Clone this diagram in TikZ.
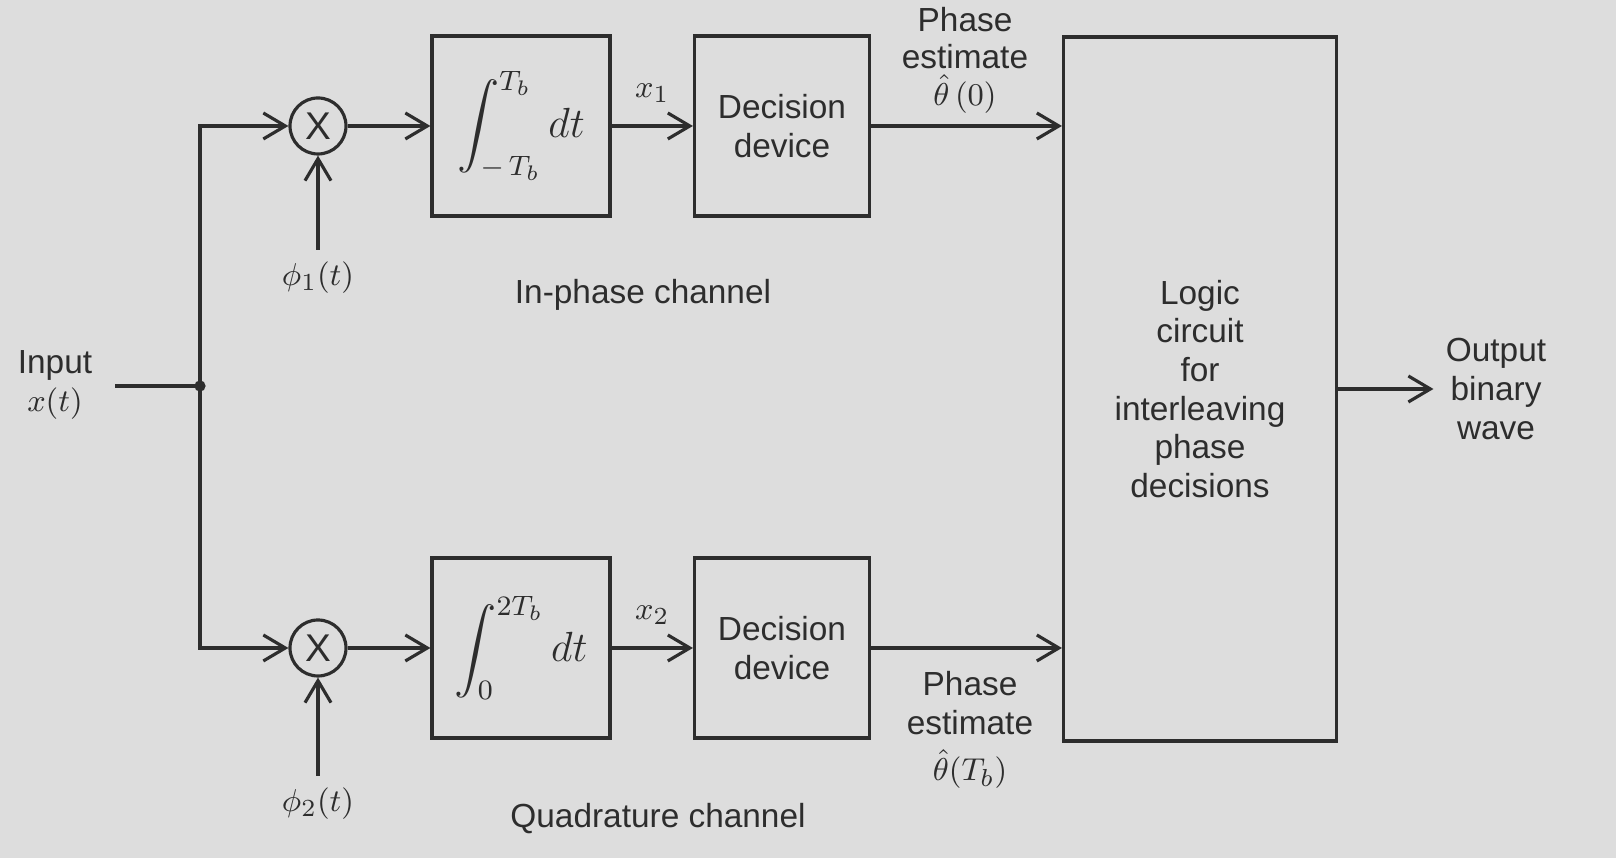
\documentclass[tikz,border=0pt]{standalone}
\usepackage{amsmath}
\usepackage{fontspec}
\setmainfont{Liberation Sans}
\usetikzlibrary{positioning, arrows.meta}
\definecolor{paper}{RGB}{221,221,221}
\definecolor{ink}{RGB}{45,45,45}

\begin{document}
\begin{tikzpicture}[node distance=1.5cm, auto, font=\fontsize{9.5}{11}\selectfont, color=ink]
				\tikzstyle{box} = [rectangle, draw, line width=0.9pt, minimum width=1.78cm, minimum height=1.8cm, align=center]
				\tikzstyle{mixer} = [circle, draw, line width=0.9pt, minimum size=0.56cm, inner sep=0pt, font=\fontsize{11}{11}\selectfont]
				\tikzstyle{wire} = [line width=0.9pt]
				\tikzstyle{arrow} = [line width=0.9pt, -{Straight Barb[length=2.2mm, width=2.6mm, line width=0.9pt]}]
				\tikzstyle{label} = [align=center]
				
				\useasboundingbox (0,0) rectangle (16.16,8.58);
				\fill [paper] (0,0) rectangle (16.16,8.58);
				
				% input and split point
				\node [label] (input) at (0.55,4.73) {Input\\$x(t)$};
				\coordinate (start) at (1.15,4.72);
				\coordinate (split) at (2.00,4.72);
				
				% in-phase channel
				\node [mixer] (mixone) at (3.18,7.32) {X};
				\node [box, font=\fontsize{12}{14}\selectfont] (intone) at (5.21,7.32) {$\displaystyle\int_{-\,T_b}^{T_b} dt$};
				\node [box, minimum width=1.75cm] (decone) at (7.82,7.32) {Decision\\device};
				\node (phione) at (3.18,5.80) {$\phi_1(t)$};
				\node [label] at (6.43,5.63) {In-phase channel};
				
				% quadrature channel
				\node [mixer] (mixtwo) at (3.18,2.10) {X};
				\node [box, font=\fontsize{12}{14}\selectfont] (inttwo) at (5.21,2.10) {$\displaystyle\int_{0}^{2T_b} dt$};
				\node [box, minimum width=1.75cm] (dectwo) at (7.82,2.10) {Decision\\device};
				\node (phitwo) at (3.18,0.54) {$\phi_2(t)$};
				\node [label] at (6.58,0.39) {Quadrature channel};
				
				% logic and output
				\node [box, minimum width=2.73cm, minimum height=7.04cm] (logic) at (12.00,4.69) {Logic\\circuit\\for\\interleaving\\phase\\decisions};
				\node [label] (output) at (14.96,4.69) {Output\\binary\\wave};
				\node [label, font=\fontsize{9.5}{10.5}\selectfont] (estone) at (9.65,7.98) {Phase\\estimate\\$\hat{\theta}\,(0)$};
				\node [label] (esttwo) at (9.70,1.28) {Phase\\estimate\\[2pt]$\hat{\theta}(T_b)$};
				
				\draw [wire] (start) -- (split);
				\fill (split) circle (1.6pt);
				\draw [arrow] (split) |- (mixone);
				\draw [arrow] (split) |- (mixtwo);
				\draw [arrow] (phione) -- (mixone);
				\draw [arrow] (phitwo) -- (mixtwo);
				\draw [arrow] (mixone) -- (intone);
				\draw [arrow] (mixtwo) -- (inttwo);
				\draw [arrow] (intone) -- node [above=0.1cm] {$x_1$} (decone);
				\draw [arrow] (inttwo) -- node [above=0.1cm] {$x_2$} (dectwo);
				\draw [arrow] (decone) -- (decone -| logic.west);
				\draw [arrow] (dectwo) -- (dectwo -| logic.west);
				\draw [arrow] (logic) -- (output);
			\end{tikzpicture}
\end{document}
